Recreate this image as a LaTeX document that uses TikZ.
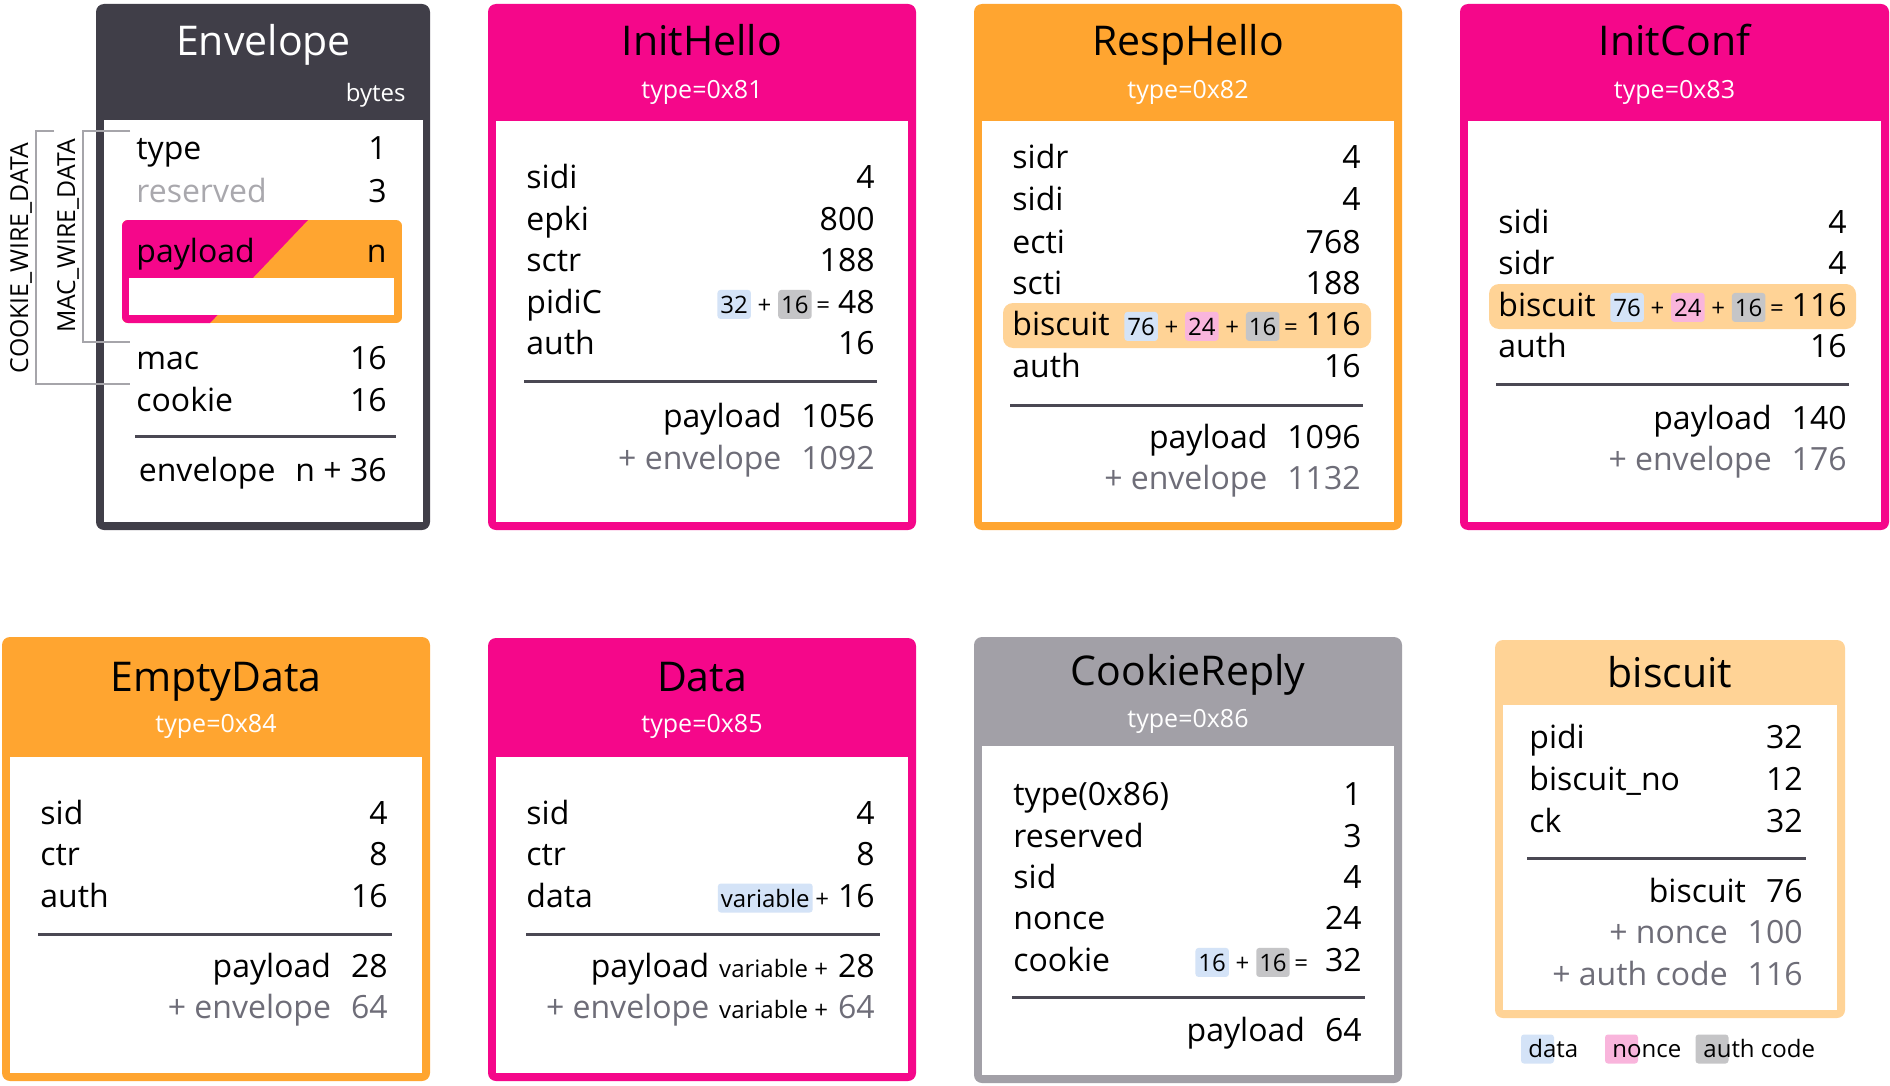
\documentclass[tikz,border=0pt]{standalone}
\usepackage{fontspec}
\setmainfont{Open Sans}
\usetikzlibrary{positioning}

\definecolor{envdark}{HTML}{403E48}
\definecolor{msgpink}{HTML}{F5078A}
\definecolor{msgorange}{HTML}{FFA530}
\definecolor{msggray}{HTML}{A2A0A7}
\definecolor{biscuitbg}{HTML}{FFD396}
\definecolor{chipdata}{HTML}{D4E3F7}
\definecolor{chipnonce}{HTML}{F9B5DC}
\definecolor{chipauth}{HTML}{C5C5C7}
\definecolor{sumgray}{HTML}{6E6D78}
\definecolor{resgray}{HTML}{A9A8AD}
\definecolor{rulegray}{HTML}{4A4853}
\definecolor{brackgray}{HTML}{A6A5AA}

\newcommand{\msgtitle}{\fontsize{20.5}{24}\selectfont}
\newcommand{\msgtype}{\fontsize{12.5}{15}\selectfont}
\newcommand{\msgfield}{\fontsize{16}{19}\selectfont}
\newcommand{\msgsmall}{\fontsize{12}{14}\selectfont}
\newcommand{\msgside}{\fontsize{12.4}{15}\selectfont}

\begin{document}
\begin{tikzpicture}[
    x=0.5pt, y=-0.5pt,
    node distance=3pt,
    frame/.style={rounded corners=4pt},
    ttl/.style={anchor=base, inner sep=0pt, font=\msgtitle},
    typ/.style={anchor=base, inner sep=0pt, font=\msgtype, text=white},
    lbl/.style={anchor=base west, inner sep=0pt, font=\msgfield},
    num/.style={anchor=base east, inner sep=0pt, font=\msgfield},
    sum/.style={num, text=sumgray},
    chip/.style={rounded corners=1.5pt, inner ysep=0pt, inner xsep=1.5pt, minimum width=16.5pt, minimum height=14.5pt, font=\msgsmall},
    op/.style={inner sep=0pt, font=\msgsmall},
    rule/.style={line width=1.5pt, draw=rulegray},
    brk/.style={line width=1pt, draw=brackgray},
    hilite/.style={fill=biscuitbg, rounded corners=5pt}
]
\fill[white] (0,0) rectangle (1890,1086);
\useasboundingbox (0,0) rectangle (1890,1086);

% Envelope
\fill[envdark, frame] (96,4) rectangle (430,530);
\fill[white] (104,120) rectangle (423,522);
\node[ttl, text=white] (env-title) at (263.5,56) {Envelope};
\node[anchor=base east, inner sep=0pt, font=\msgsmall, text=white] (env-bytes) at (406,102) {bytes};
\node[lbl] (env-l1) at (136,160) {type};
\node[num] (env-n1) at (387,160) {1};
\node[lbl, text=resgray] (env-l2) at (136,202) {reserved};
\node[num] (env-n2) at (387,202) {3};
\begin{scope}
  \clip[rounded corners=3pt] (122,220) rectangle (402,323);
  \fill[msgorange] (122,220) rectangle (402,323);
  \fill[msgpink] (122,220) -- (308,220) -- (210,323) -- (122,323) -- cycle;
\end{scope}
\fill[white] (129,278) rectangle (394,315);
\node[lbl] (env-l3) at (136,262) {payload};
\node[num] (env-n3) at (387,262) {n};
\node[lbl] (env-l4) at (136,369) {mac};
\node[num] (env-n4) at (387,369) {16};
\node[lbl] (env-l5) at (136,411) {cookie};
\node[num] (env-n5) at (387,411) {16};
\draw[rule] (135,436) -- (396,436);
\node[num] (env-sum) at (387,481) {envelope\hskip10pt n + 36};

% Wire data brackets
\coordinate (mac-a) at (130,131);
\coordinate (mac-b) at (130,342);
\coordinate (ck-a) at (54,131);
\coordinate (ck-b) at (130,384);
\draw[brk] (mac-a) -- (83,131) |- (mac-b);
\draw[brk] (ck-a) -- (36,131) |- (ck-b);
\node[rotate=90, inner sep=0pt, font=\msgside] (mac-lbl) at (68,236) {MAC\_WIRE\_DATA};
\node[rotate=90, inner sep=0pt, font=\msgside] (ck-lbl) at (21,258) {COOKIE\_WIRE\_DATA};

% InitHello
\fill[msgpink, frame] (488,4) rectangle (916,530);
\fill[white] (496,121) rectangle (908,522);
\node[ttl] (ih-title) at (702,56) {InitHello};
\node[typ] (ih-type) at (702,98) {type=0x81};
\foreach \lab/\val/\y [count=\i] in {sidi/4/188, epki/800/230, sctr/188/271, auth/16/354} {
    \node[lbl] (ih-l\i) at (526,\y) {\lab};
    \node[num] (ih-n\i) at (875,\y) {\val};
}
\node[lbl] (ih-pidic) at (526,313) {pidiC};
\node[num] (ih-pidic-n) at (875,313) {48};
\node[op, base left=3.5pt of ih-pidic-n] (ih-eq) {=};
\node[chip, fill=chipauth, base left=2pt of ih-eq] (ih-c2) {16};
\node[op, base left=of ih-c2] (ih-plus) {+};
\node[chip, fill=chipdata, base left=of ih-plus] (ih-c1) {32};
\draw[rule] (524,381) -- (877,381);
\node[num] (ih-pay) at (875,427) {payload\hskip10pt 1056};
\node[sum] (ih-env) at (875,469) {+ envelope\hskip10pt 1092};

% RespHello
\fill[msgorange, frame] (974,4) rectangle (1402,530);
\fill[white] (982,121) rectangle (1394,522);
\node[ttl] (rh-title) at (1188,56) {RespHello};
\node[typ] (rh-type) at (1188,98) {type=0x82};
\foreach \lab/\val/\y [count=\i] in {sidr/4/169, sidi/4/210, ecti/768/253, scti/188/294, auth/16/377} {
    \node[lbl] (rh-l\i) at (1012,\y) {\lab};
    \node[num] (rh-n\i) at (1361,\y) {\val};
}
\fill[hilite] (1003,303) rectangle (1371,348);
\node[lbl] (rh-bis) at (1012,335) {biscuit};
\node[num] (rh-bis-n) at (1361,335) {116};
\node[op, base left=3.5pt of rh-bis-n] (rh-eq) {=};
\node[chip, fill=chipauth, base left=2pt of rh-eq] (rh-c3) {16};
\node[op, base left=of rh-c3] (rh-plus2) {+};
\node[chip, fill=chipnonce, base left=of rh-plus2] (rh-c2) {24};
\node[op, base left=of rh-c2] (rh-plus1) {+};
\node[chip, fill=chipdata, base left=of rh-plus1] (rh-c1) {76};
\draw[rule] (1010,405) -- (1363,405);
\node[num] (rh-pay) at (1361,448) {payload\hskip10pt 1096};
\node[sum] (rh-env) at (1361,489) {+ envelope\hskip10pt 1132};

% InitConf
\fill[msgpink, frame] (1460,4) rectangle (1889,530);
\fill[white] (1468,121) rectangle (1881,522);
\node[ttl] (ic-title) at (1674.5,56) {InitConf};
\node[typ] (ic-type) at (1674.5,98) {type=0x83};
\foreach \lab/\val/\y [count=\i] in {sidi/4/233, sidr/4/274, auth/16/357} {
    \node[lbl] (ic-l\i) at (1498,\y) {\lab};
    \node[num] (ic-n\i) at (1847,\y) {\val};
}
\fill[hilite] (1489,284) rectangle (1856,329);
\node[lbl] (ic-bis) at (1498,316) {biscuit};
\node[num] (ic-bis-n) at (1847,316) {116};
\node[op, base left=3.5pt of ic-bis-n] (ic-eq) {=};
\node[chip, fill=chipauth, base left=2pt of ic-eq] (ic-c3) {16};
\node[op, base left=of ic-c3] (ic-plus2) {+};
\node[chip, fill=chipnonce, base left=of ic-plus2] (ic-c2) {24};
\node[op, base left=of ic-c2] (ic-plus1) {+};
\node[chip, fill=chipdata, base left=of ic-plus1] (ic-c1) {76};
\draw[rule] (1496,384) -- (1849,384);
\node[num] (ic-pay) at (1847,429) {payload\hskip10pt 140};
\node[sum] (ic-env) at (1847,470) {+ envelope\hskip10pt 176};

% EmptyData
\fill[msgorange, frame] (2,637) rectangle (430,1081);
\fill[white] (10,757) rectangle (422,1073);
\node[ttl] (ed-title) at (216,691) {EmptyData};
\node[typ] (ed-type) at (216,732) {type=0x84};
\foreach \lab/\val/\y [count=\i] in {sid/4/824, ctr/8/865, auth/16/907} {
    \node[lbl] (ed-l\i) at (40,\y) {\lab};
    \node[num] (ed-n\i) at (388,\y) {\val};
}
\draw[rule] (38,934) -- (392,934);
\node[num] (ed-pay) at (388,977) {payload\hskip10pt 28};
\node[sum] (ed-env) at (388,1018) {+ envelope\hskip10pt 64};

% Data
\fill[msgpink, frame] (488,638) rectangle (916,1081);
\fill[white] (496,757) rectangle (908,1073);
\node[ttl] (dt-title) at (702,691) {Data};
\node[typ] (dt-type) at (702,732) {type=0x85};
\foreach \lab/\val/\y [count=\i] in {sid/4/824, ctr/8/865} {
    \node[lbl] (dt-l\i) at (526,\y) {\lab};
    \node[num] (dt-n\i) at (875,\y) {\val};
}
\node[lbl] (dt-data) at (526,907) {data};
\node[num] (dt-data-n) at (875,907) {16};
\node[op, base left=4pt of dt-data-n] (dt-plus) {+};
\node[chip, fill=chipdata, base left=1pt of dt-plus] (dt-c1) {variable};
\draw[rule] (526,934) -- (880,934);
\node[num] (dt-pay) at (875,977) {payload\hskip5pt{\msgsmall variable +}\hskip5pt 28};
\node[sum] (dt-env) at (875,1018) {+ envelope\hskip5pt{\msgsmall\color{black}variable +}\hskip5pt 64};

% CookieReply
\fill[msggray, frame] (974,637) rectangle (1402,1083);
\fill[white] (982,746) rectangle (1394,1075);
\node[ttl] (cr-title) at (1188,685) {CookieReply};
\node[typ] (cr-type) at (1188,727) {type=0x86};
\foreach \lab/\val/\y [count=\i] in {type(0x86)/1/805, reserved/3/847, sid/4/888, nonce/24/929} {
    \node[lbl] (cr-l\i) at (1013,\y) {\lab};
    \node[num] (cr-n\i) at (1362,\y) {\val};
}
\node[lbl] (cr-cookie) at (1013,971) {cookie};
\node[num] (cr-cookie-n) at (1362,971) {32};
\node[op, base left=8pt of cr-cookie-n] (cr-eq) {=};
\node[chip, fill=chipauth, base left=2pt of cr-eq] (cr-c2) {16};
\node[op, base left=of cr-c2] (cr-plus) {+};
\node[chip, fill=chipdata, base left=of cr-plus] (cr-c1) {16};
\draw[rule] (1012,997) -- (1365,997);
\node[num] (cr-pay) at (1362,1041) {payload\hskip10pt 64};

% biscuit
\fill[biscuitbg, frame] (1495,640) rectangle (1845,1018);
\fill[white] (1503,705) rectangle (1837,1010);
\node[ttl] (bs-title) at (1670,687) {biscuit};
\foreach \lab/\val/\y [count=\i] in {pidi/32/748, biscuit\_no/12/790, ck/32/832} {
    \node[lbl] (bs-l\i) at (1529,\y) {\lab};
    \node[num] (bs-n\i) at (1803,\y) {\val};
}
\draw[rule] (1527,858) -- (1806,858);
\node[num] (bs-tot1) at (1803,902) {biscuit\hskip10pt 76};
\node[sum] (bs-tot2) at (1803,943) {+ nonce\hskip10pt 100};
\node[sum] (bs-tot3) at (1803,985) {+ auth code\hskip10pt 116};

% Legend
\node[chip, fill=chipdata] (lg-c1) at (1537.5,1049) {};
\node[chip, fill=chipnonce] (lg-c2) at (1621.5,1049) {};
\node[chip, fill=chipauth] (lg-c3) at (1712,1049) {};
\node[anchor=base west, inner sep=0pt, font=\msgsmall] (lg-data) at (1528,1057) {data};
\node[anchor=base west, inner sep=0pt, font=\msgsmall] (lg-nonce) at (1612,1057) {nonce};
\node[anchor=base west, inner sep=0pt, font=\msgsmall] (lg-auth) at (1703,1057) {auth code};

\end{tikzpicture}
\end{document}
